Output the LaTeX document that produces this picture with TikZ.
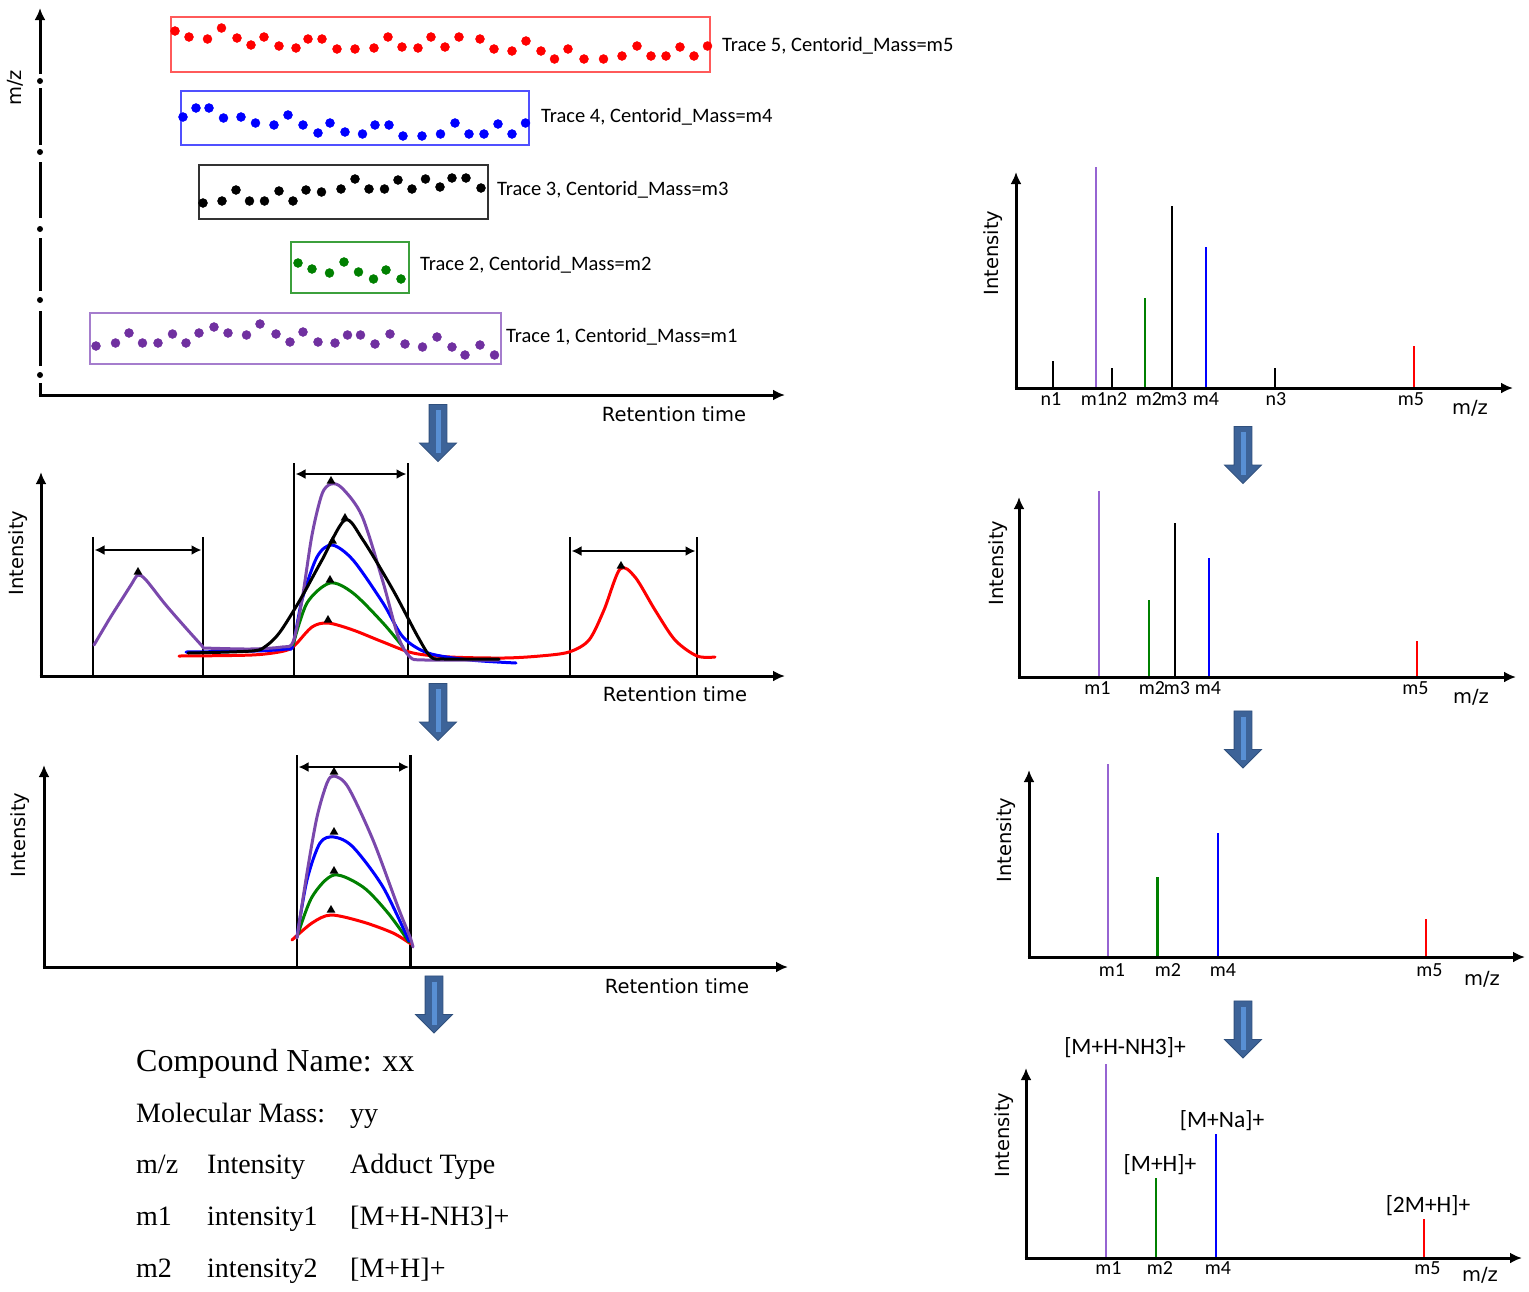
\documentclass[tikz,border=0pt]{standalone}
\usepackage{fontspec}
\setmainfont{Liberation Serif}
\newfontfamily\calfont{Carlito}
\newfontfamily\axfont{DejaVu Sans}
\usetikzlibrary{arrows.meta,shapes.geometric,shapes.arrows}

\definecolor{tracered}{RGB}{255,0,0}
\definecolor{traceblue}{RGB}{0,0,255}
\definecolor{tracegreen}{RGB}{0,128,0}
\definecolor{tracepurple}{RGB}{112,48,160}
\definecolor{curvepurple}{RGB}{122,72,172}
\definecolor{specpurple}{RGB}{150,100,210}
\definecolor{boxred}{RGB}{255,90,90}
\definecolor{boxblue}{RGB}{80,80,255}
\definecolor{boxblack}{RGB}{50,50,50}
\definecolor{boxgreen}{RGB}{60,160,60}
\definecolor{boxpurple}{RGB}{165,125,205}
\definecolor{arrowblue}{RGB}{61,99,152}
\definecolor{arrowedge}{RGB}{48,80,125}
\definecolor{arrowlight}{RGB}{88,143,212}

\tikzset{
  axisarrow/.style={line width=3pt, -{Latex[length=12pt,width=11pt]}},
  axisseg/.style={line width=3pt},
  tracebox/.style={line width=1.8pt},
  tracedots/.style={only marks, mark=*, mark size=4.5pt},
  tracelabel/.style={anchor=west, inner sep=0pt, font=\calfont\fontsize{20.5}{24}\selectfont},
  axlabel/.style={inner sep=0pt, font=\axfont\fontsize{19.5}{23}\selectfont},
  windowbar/.style={line width=2.6pt},
  widtharrow/.style={line width=2.6pt, {Latex[length=10pt,width=10pt]}-{Latex[length=10pt,width=10pt]}},
  tracecurve/.style={line width=3pt, line cap=round, line join=round},
  peakmark/.style={regular polygon, regular polygon sides=3, fill=black, inner sep=0pt, minimum size=10pt},
  specline/.style={line width=2.8pt},
  peaklabel/.style={inner sep=0pt, font=\calfont\fontsize{20}{24}\selectfont},
  adduct/.style={inner sep=0pt, font=\calfont\fontsize{23.5}{27}\selectfont},
  tabtitle/.style={anchor=base west, inner sep=0pt, font=\fontsize{32}{38}\selectfont},
  tabtext/.style={anchor=base west, inner sep=0pt, font=\fontsize{28}{34}\selectfont},
  stepdown/.style={single arrow, rotate=-90, fill=arrowblue, draw=arrowedge, line width=0.8pt,
    minimum height=57pt, inner xsep=0pt, inner ysep=8.5pt, single arrow head extend=9.5pt,
    single arrow tip angle=90},
  stripe/.style={line width=5pt, arrowlight, shorten <=6pt, shorten >=9pt},
}

\begin{document}
\begin{tikzpicture}[x=1pt,y=-1pt]
\useasboundingbox (0,0) rectangle (1529,1291);
% Traces: axes
\coordinate (o1) at (40,395);
\coordinate (y1) at (40,8);
\coordinate (x1) at (785,395);
\draw[axisseg] (o1) -- (40,383);
\draw[axisseg] (40,366) -- (40,311);
\draw[axisseg] (40,291) -- (40,238);
\draw[axisseg] (40,218) -- (40,162);
\draw[axisseg] (40,145) -- (40,88);
\draw[axisarrow] (40,74) -- (y1);
\fill (40,375) circle (3pt);
\fill (40,300) circle (3pt);
\fill (40,229) circle (3pt);
\fill (40,152) circle (3pt);
\fill (40,81) circle (3pt);
\draw[axisarrow] (38.5,395) -- (x1);
\node[axlabel, rotate=90] (mz1) at (15,88) {m/z};
\node[axlabel] (rt1) at (674,414) {Retention time};
% Trace boxes
\draw[tracebox, draw=boxred] (171,17) rectangle (710,72);
\draw[tracebox, draw=boxblue] (181,91) rectangle (529,145);
\draw[tracebox, draw=boxblack] (199,165) rectangle (488,219);
\draw[tracebox, draw=boxgreen] (291,242) rectangle (409,293);
\draw[tracebox, draw=boxpurple] (90,313) rectangle (501,364);
% Trace points
\draw[tracered] plot[tracedots] coordinates {(175,31) (189,37) (207.5,39) (221.5,28) (237,38) (251,45) (264,37) (279,46) (296,48) (308,39) (322,39) (337,49) (355,49) (374,48) (388,37) (402,47) (418,48) (431,37) (445,47) (459,37) (480,39) (494,49) (512,51) (526,41) (541,51) (554.5,59) (568,49) (584,59) (603.5,59) (622,56) (637,46) (651,56) (666,56) (680,47) (694,56) (707.5,46)};
\draw[traceblue] plot[tracedots] coordinates {(183,117) (196,108) (209,108) (223.5,118) (241,117) (255.5,123) (274,125) (288,115) (303,125) (318,133) (330,123) (345,132) (362.5,134) (375,125) (389,125) (403,136) (422,136) (440.5,134) (455,123) (469,134) (484,134) (498,124) (512,134) (525.5,123)};
\draw[black] plot[tracedots] coordinates {(203,203) (222,201) (236,190) (249.5,201) (264.5,201) (279,191) (293,201) (306,190) (321.5,192) (341,189) (355,179) (369,189) (384.5,189) (398,180) (412,189) (425.5,179) (440,187) (452,178) (466,178) (481,188)};
\draw[tracegreen] plot[tracedots] coordinates {(298,263) (312,269) (329.5,273) (344,262) (358.5,272) (373.5,279) (386,270) (401,279)};
\draw[tracepurple] plot[tracedots] coordinates {(96,346) (115.5,343) (129,333) (142.5,343) (158,343) (172.5,334) (186,343) (199,333) (214,327) (228,333) (246.5,335) (260,324) (276,334) (290,342) (303,332) (318,342) (335,343) (347.5,335) (360.5,335) (375,344) (390,334) (405,344) (422.5,347) (437,337) (452,347) (465,355) (480,345) (494.5,355)};
% Trace labels
\node[tracelabel] (t5) at (722,46) {Trace 5, Centorid\_Mass=m5};
\node[tracelabel] (t4) at (541,117) {Trace 4, Centorid\_Mass=m4};
\node[tracelabel] (t3) at (497,190) {Trace 3, Centorid\_Mass=m3};
\node[tracelabel] (t2) at (420,265) {Trace 2, Centorid\_Mass=m2};
\node[tracelabel] (t1) at (506,337) {Trace 1, Centorid\_Mass=m1};
% Step arrows, left column
\node[stepdown] (la1) at (438,428.5) {};
\draw[stripe] (la1.tail) -- (la1.tip);
\node[stepdown] (la2) at (438,707.5) {};
\draw[stripe] (la2.tail) -- (la2.tip);
\node[stepdown] (la3) at (434,1000) {};
\draw[stripe] (la3.tail) -- (la3.tip);
% Peaks: axes
\coordinate (o2) at (41,676);
\coordinate (y2) at (41,472);
\coordinate (x2) at (785,676);
\draw[axisarrow] (41,677.5) -- (y2);
\draw[axisarrow] (39.5,676) -- (x2);
\node[axlabel, rotate=90] (in2) at (18,553) {Intensity};
\node[axlabel] (rt2) at (675,694) {Retention time};
% Peak windows
\draw[windowbar] (93,537) -- (93,676);
\draw[windowbar] (203,537) -- (203,676);
\draw[windowbar] (294,463) -- (294,676);
\draw[windowbar] (408,463) -- (408,676);
\draw[windowbar] (570,537) -- (570,676);
\draw[windowbar] (697,537) -- (697,676);
\draw[widtharrow] (94.5,550) -- (201.5,550);
\draw[widtharrow] (295.5,474) -- (406.5,474);
\draw[widtharrow] (571.5,551) -- (695.5,551);
% Peak curves
\draw[tracecurve, tracered] plot[smooth, tension=0.5] coordinates {(179,656) (252,655) (284,651) (295,645) (312,627) (328,623) (353,630) (383,642) (413,653) (450,657) (504,658) (540,656) (569,652) (589,640) (604,610) (620,569) (635,577) (655,610) (675,640) (697,656) (715,657)};
\draw[tracecurve, traceblue] plot[smooth, tension=0.5] coordinates {(186,652) (255,651) (286,649) (293,645) (302,600) (317,557) (332,545) (353,560) (383,603) (403,637) (428,653) (470,660) (516,663)};
\draw[tracecurve, tracegreen] plot[smooth, tension=0.5] coordinates {(293,645) (307,603) (330,583) (353,593) (383,623) (403,647)};
\draw[tracecurve, curvepurple] plot[smooth, tension=0.5] coordinates {(94,645) (110,618) (124,596) (131,585) (138,575) (146,580) (165,604) (185,627) (203,647)};
\draw[tracecurve, curvepurple] plot[smooth, tension=0.5] coordinates {(203,648) (250,649) (282,647) (293,642) (302,600) (312,535) (322,494) (331,484) (342,488) (362,516) (383,582) (398,636) (410,657) (425,660) (499,660)};
\draw[tracecurve, black] plot[smooth, tension=0.5] coordinates {(188,653) (252,651) (266,646) (280,632) (300,600) (322,560) (345,520) (363,540) (393,590) (418,637) (431,657) (445,659) (499,659)};
% Apex marks
\node[peakmark] (pk1) at (138,572) {};
\node[peakmark] (pk2) at (331,481) {};
\node[peakmark] (pk3) at (345,518) {};
\node[peakmark] (pk4) at (332.5,541) {};
\node[peakmark] (pk5) at (330,580) {};
\node[peakmark] (pk6) at (328,620) {};
\node[peakmark] (pk7) at (621,566) {};
% Grouped peaks: axes
\coordinate (o3) at (44,967);
\coordinate (y3) at (44,765);
\coordinate (x3) at (788,967);
\draw[axisarrow] (44,968.5) -- (y3);
\draw[axisarrow] (42.5,967) -- (x3);
\node[axlabel, rotate=90] (in3) at (20,835) {Intensity};
\node[axlabel] (rt3) at (677,986) {Retention time};
\draw[windowbar] (297,755) -- (297,967);
\draw[windowbar] (410.5,755) -- (410.5,967);
\draw[widtharrow] (298.5,767) -- (409,767);
\draw[tracecurve, tracered] plot[smooth, tension=0.5] coordinates {(292,940) (312,923) (331,915) (363,922) (393,933) (411,944)};
\draw[tracecurve, tracegreen] plot[smooth, tension=0.5] coordinates {(297,937) (312,897) (334,875) (363,887) (388,913) (409,942)};
\draw[tracecurve, traceblue] plot[smooth, tension=0.5] coordinates {(297,937) (307,880) (320,843) (334,837) (353,847) (383,887) (409,941)};
\draw[tracecurve, curvepurple] plot[smooth, tension=0.5] coordinates {(297,938) (307,873) (317,817) (327,783) (334,776) (348,787) (373,840) (398,907) (410,937) (413,947)};
\node[peakmark] (pk8) at (334,772) {};
\node[peakmark] (pk9) at (334,832) {};
\node[peakmark] (pk10) at (334,871) {};
\node[peakmark] (pk11) at (331,910) {};
% Compound record
\node[tabtitle] (cname) at (136,1071) {Compound Name: xx};
\node[tabtext] (mmass) at (136,1122) {Molecular Mass:};
\node[tabtext] (mval) at (350,1122) {yy};
\node[tabtext] (hmz) at (136,1173) {m/z};
\node[tabtext] (hint) at (207,1173) {Intensity};
\node[tabtext] (hadd) at (350,1173) {Adduct Type};
\node[tabtext] (r1mz) at (136,1225) {m1};
\node[tabtext] (r1int) at (207,1225) {intensity1};
\node[tabtext] (r1add) at (350,1225) {[M+H-NH3]+};
\node[tabtext] (r2mz) at (136,1277) {m2};
\node[tabtext] (r2int) at (207,1277) {intensity2};
\node[tabtext] (r2add) at (350,1277) {[M+H]+};
% Spectrum 1
\draw[specline, black] (1053,388) -- (1053,361);
\draw[specline, specpurple] (1096,388) -- (1096,167);
\draw[specline, black] (1112,388) -- (1112,368);
\draw[specline, tracegreen] (1145,388) -- (1145,298);
\draw[specline, black] (1172,388) -- (1172,206);
\draw[specline, traceblue] (1206,388) -- (1206,247);
\draw[specline, black] (1275,388) -- (1275,368);
\draw[specline, tracered] (1414,388) -- (1414,346);
\coordinate (s1o) at (1016,388);
\coordinate (s1y) at (1016,172);
\coordinate (s1x) at (1513,388);
\draw[axisarrow] (1016,389.5) -- (s1y);
\draw[axisarrow] (1014.5,388) -- (s1x);
\node[axlabel, rotate=90] (in4) at (993,253) {Intensity};
\node[axlabel] (mz4) at (1470,408) {m/z};
\node[peaklabel] (s1n1) at (1051,399) {n1};
\node[peaklabel] (s1m1) at (1094,399) {m1};
\node[peaklabel] (s1n2) at (1117,399) {n2};
\node[peaklabel] (s1m2) at (1149,399) {m2};
\node[peaklabel] (s1m3) at (1174,399) {m3};
\node[peaklabel] (s1m4) at (1206,399) {m4};
\node[peaklabel] (s1n3) at (1276,399) {n3};
\node[peaklabel] (s1m5) at (1411,399) {m5};
\node[stepdown] (ra1) at (1243,450.5) {};
\draw[stripe] (ra1.tail) -- (ra1.tip);
% Spectrum 2
\draw[specline, specpurple] (1099,677) -- (1099,491);
\draw[specline, tracegreen] (1149,677) -- (1149,600);
\draw[specline, black] (1175,677) -- (1175,523);
\draw[specline, traceblue] (1209,677) -- (1209,558);
\draw[specline, tracered] (1417,677) -- (1417,641);
\coordinate (s2o) at (1019,677);
\coordinate (s2y) at (1019,497);
\coordinate (s2x) at (1516,677);
\draw[axisarrow] (1019,678.5) -- (s2y);
\draw[axisarrow] (1017.5,677) -- (s2x);
\node[axlabel, rotate=90] (in5) at (998,563) {Intensity};
\node[axlabel] (mz5) at (1471,697) {m/z};
\node[peaklabel] (s2m1) at (1097.5,688) {m1};
\node[peaklabel] (s2m2) at (1152,688) {m2};
\node[peaklabel] (s2m3) at (1177,688) {m3};
\node[peaklabel] (s2m4) at (1208,688) {m4};
\node[peaklabel] (s2m5) at (1415.5,688) {m5};
\node[stepdown] (ra2) at (1243,735) {};
\draw[stripe] (ra2.tail) -- (ra2.tip);
% Spectrum 3
\draw[specline, specpurple] (1108,957) -- (1108,764);
\draw[specline, tracegreen] (1157.5,957) -- (1157.5,877);
\draw[specline, traceblue] (1218,957) -- (1218,833);
\draw[specline, tracered] (1426,957) -- (1426,919);
\coordinate (s3o) at (1029,957);
\coordinate (s3y) at (1029,770);
\coordinate (s3x) at (1525,957);
\draw[axisarrow] (1029,958.5) -- (s3y);
\draw[axisarrow] (1027.5,957) -- (s3x);
\node[axlabel, rotate=90] (in6) at (1006,840) {Intensity};
\node[axlabel] (mz6) at (1482,979) {m/z};
\node[peaklabel] (s3m1) at (1112,970) {m1};
\node[peaklabel] (s3m2) at (1168,970) {m2};
\node[peaklabel] (s3m4) at (1223,970) {m4};
\node[peaklabel] (s3m5) at (1429.5,970) {m5};
\node[stepdown] (ra3) at (1243,1025) {};
\draw[stripe] (ra3.tail) -- (ra3.tip);
% Spectrum 4
\draw[specline, specpurple] (1106,1258) -- (1106,1064);
\draw[specline, tracegreen] (1156,1258) -- (1156,1178);
\draw[specline, traceblue] (1216,1258) -- (1216,1134);
\draw[specline, tracered] (1424,1258) -- (1424,1219);
\coordinate (s4o) at (1026,1258);
\coordinate (s4y) at (1026,1068);
\coordinate (s4x) at (1522,1258);
\draw[axisarrow] (1026,1259.5) -- (s4y);
\draw[axisarrow] (1024.5,1258) -- (s4x);
\node[axlabel, rotate=90] (in7) at (1004,1135) {Intensity};
\node[axlabel] (mz7) at (1480,1275) {m/z};
\node[peaklabel] (s4m1) at (1108.5,1268) {m1};
\node[peaklabel] (s4m2) at (1160,1268) {m2};
\node[peaklabel] (s4m4) at (1218,1268) {m4};
\node[peaklabel] (s4m5) at (1427.5,1268) {m5};
\node[adduct] (ad1) at (1125,1048) {[M+H-NH3]+};
\node[adduct] (ad2) at (1160,1165) {[M+H]+};
\node[adduct] (ad3) at (1222,1121) {[M+Na]+};
\node[adduct] (ad4) at (1428,1206) {[2M+H]+};
\end{tikzpicture}
\end{document}
